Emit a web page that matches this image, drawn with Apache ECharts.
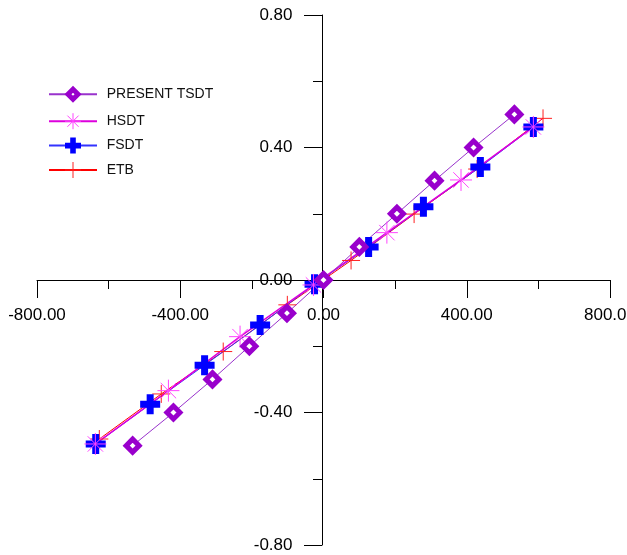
<!DOCTYPE html>
<html>
<head>
<meta charset="utf-8">
<script src="https://cdn.jsdelivr.net/npm/echarts@6/dist/echarts.min.js"></script>
<style>
html,body{margin:0;padding:0;background:#fff;}
#chart{width:627px;height:555px;}
</style>
</head>
<body>
<div id="chart"></div>
<script>
// ---- data ----
const seriesNames = ['PRESENT TSDT', 'HSDT', 'FSDT', 'ETB'];

const tsdtX = [-533, -419, -310, -207, -102, 0, 100, 205, 310, 419, 533];
const tsdtY = [-0.50, -0.40, -0.30, -0.20, -0.10, 0.00, 0.10, 0.20, 0.30, 0.40, 0.50];

const hsdtX = [-637, -433, -233, -28, 177, 384, 586];
const hsdtY = [-0.495, -0.334, -0.171, -0.015, 0.143, 0.302, 0.462];

const fsdtX = [-636, -484, -332, -177, -25, 126, 279, 438, 586];
const fsdtY = [-0.495, -0.375, -0.257, -0.136, -0.013, 0.100, 0.221, 0.341, 0.462];

const etbX = [-626, -453, -280, -101, 77, 253, 429, 613];
const etbY = [-0.480, -0.344, -0.216, -0.075, 0.059, 0.199, 0.335, 0.488];

const xTicks = { min: -800, max: 800, step: 400 };
const yTicks = { min: -0.8, max: 0.8, step: 0.4 };

function pairs(xs, ys) { return xs.map((x, i) => [x, ys[i]]); }

// ---- symbols ----
const diamondSym = 'path://M10,3.75L16.25,10L10,16.25L3.75,10Z M0,0 M20,20';
const asteriskSym = 'path://M0,10L20,10M10,0L10,20M3,3L17,17M17,3L3,17';
const thickPlusSym = 'path://M6.5,0H13.5V6.5H20V13.5H13.5V20H6.5V13.5H0V6.5H6.5Z';
const thinPlusSym = 'path://M10,0L10,20M0,10L20,10';

const FONT = 'Liberation Sans, Arial, sans-serif';

const GRID = { left: 37, right: 17, top: 15, bottom: 10 };
const W = 627, H = 555;

const chart = echarts.init(document.getElementById('chart'), null, { renderer: 'canvas' });

// axes cross at the data origin: place each axis there through its offset
const plotW = W - GRID.left - GRID.right;
const plotH = H - GRID.top - GRID.bottom;
const xZeroPx = GRID.left + plotW * (0 - xTicks.min) / (xTicks.max - xTicks.min);
const yZeroPx = GRID.top + plotH * (yTicks.max - 0) / (yTicks.max - yTicks.min);

const axisCommon = {
  type: 'value',
  axisLine: { onZero: false, lineStyle: { color: '#000', width: 1 } },
  axisTick: { show: true, length: 18, lineStyle: { color: '#000', width: 1 } },
  minorTick: { show: true, splitNumber: 2, length: 9, lineStyle: { color: '#000', width: 1 } },
  splitLine: { show: false },
  minorSplitLine: { show: false }
};

const option = {
  animation: false,
  backgroundColor: '#fff',
  grid: Object.assign({ containLabel: false, outerBoundsMode: 'none' }, GRID),
  legend: {
    orient: 'vertical',
    left: 43,
    top: 78.8,
    itemWidth: 48,
    itemHeight: 20,
    itemGap: 7.9,
    data: [
      { name: seriesNames[0], itemStyle: { borderWidth: 5, borderColor: '#9900cc', color: '#ffffff' } },
      { name: seriesNames[1], itemStyle: { borderWidth: 1, borderColor: '#ff44ff' } },
      { name: seriesNames[2] },
      { name: seriesNames[3], itemStyle: { borderWidth: 1, borderColor: '#ff2020' } }
    ],
    textStyle: { fontSize: 14, fontFamily: FONT, color: '#111', padding: [0, 0, 0, 4.7] }
  },
  xAxis: Object.assign({}, axisCommon, {
    position: 'bottom',
    offset: -(H - GRID.bottom - yZeroPx),
    min: xTicks.min, max: xTicks.max, interval: xTicks.step,
    axisLabel: {
      margin: 27, color: '#000', fontSize: 17, fontFamily: FONT,
      formatter: v => v.toFixed(2)
    }
  }),
  yAxis: Object.assign({}, axisCommon, {
    position: 'left',
    offset: -(xZeroPx - 1.5 - GRID.left),
    min: yTicks.min, max: yTicks.max, interval: yTicks.step,
    axisLabel: {
      margin: 29.5, color: '#000', fontSize: 17, fontFamily: FONT,
      formatter: v => v.toFixed(2)
    }
  }),
  series: [
    {
      name: 'ETB', type: 'line', data: pairs(etbX, etbY),
      symbol: thinPlusSym, symbolSize: 18,
      color: '#ff0000',
      itemStyle: { color: 'rgba(255,255,255,0)', borderColor: '#ff2020', borderWidth: 1 },
      lineStyle: { color: '#ff0000', width: 1 }
    },
    {
      name: 'FSDT', type: 'line', data: pairs(fsdtX, fsdtY),
      symbol: thickPlusSym, symbolSize: 20,
      color: '#0000ff',
      itemStyle: { color: '#0000ff', borderWidth: 0 },
      lineStyle: { color: '#3333ff', width: 1 }
    },
    {
      name: 'HSDT', type: 'line', data: pairs(hsdtX, hsdtY),
      symbol: asteriskSym, symbolSize: 22,
      color: '#ff33ff',
      itemStyle: { color: 'rgba(255,255,255,0)', borderColor: '#ff44ff', borderWidth: 1 },
      lineStyle: { color: '#dd00dd', width: 1.5 }
    },
    {
      name: 'PRESENT TSDT', type: 'line', data: pairs(tsdtX, tsdtY),
      symbol: diamondSym, symbolSize: 20.8,
      color: '#9900cc',
      itemStyle: { color: '#ffffff', borderColor: '#9900cc', borderWidth: 5 },
      lineStyle: { color: '#9933cc', width: 1 }
    }
  ]
};

chart.setOption(option);
</script>
</body>
</html>
